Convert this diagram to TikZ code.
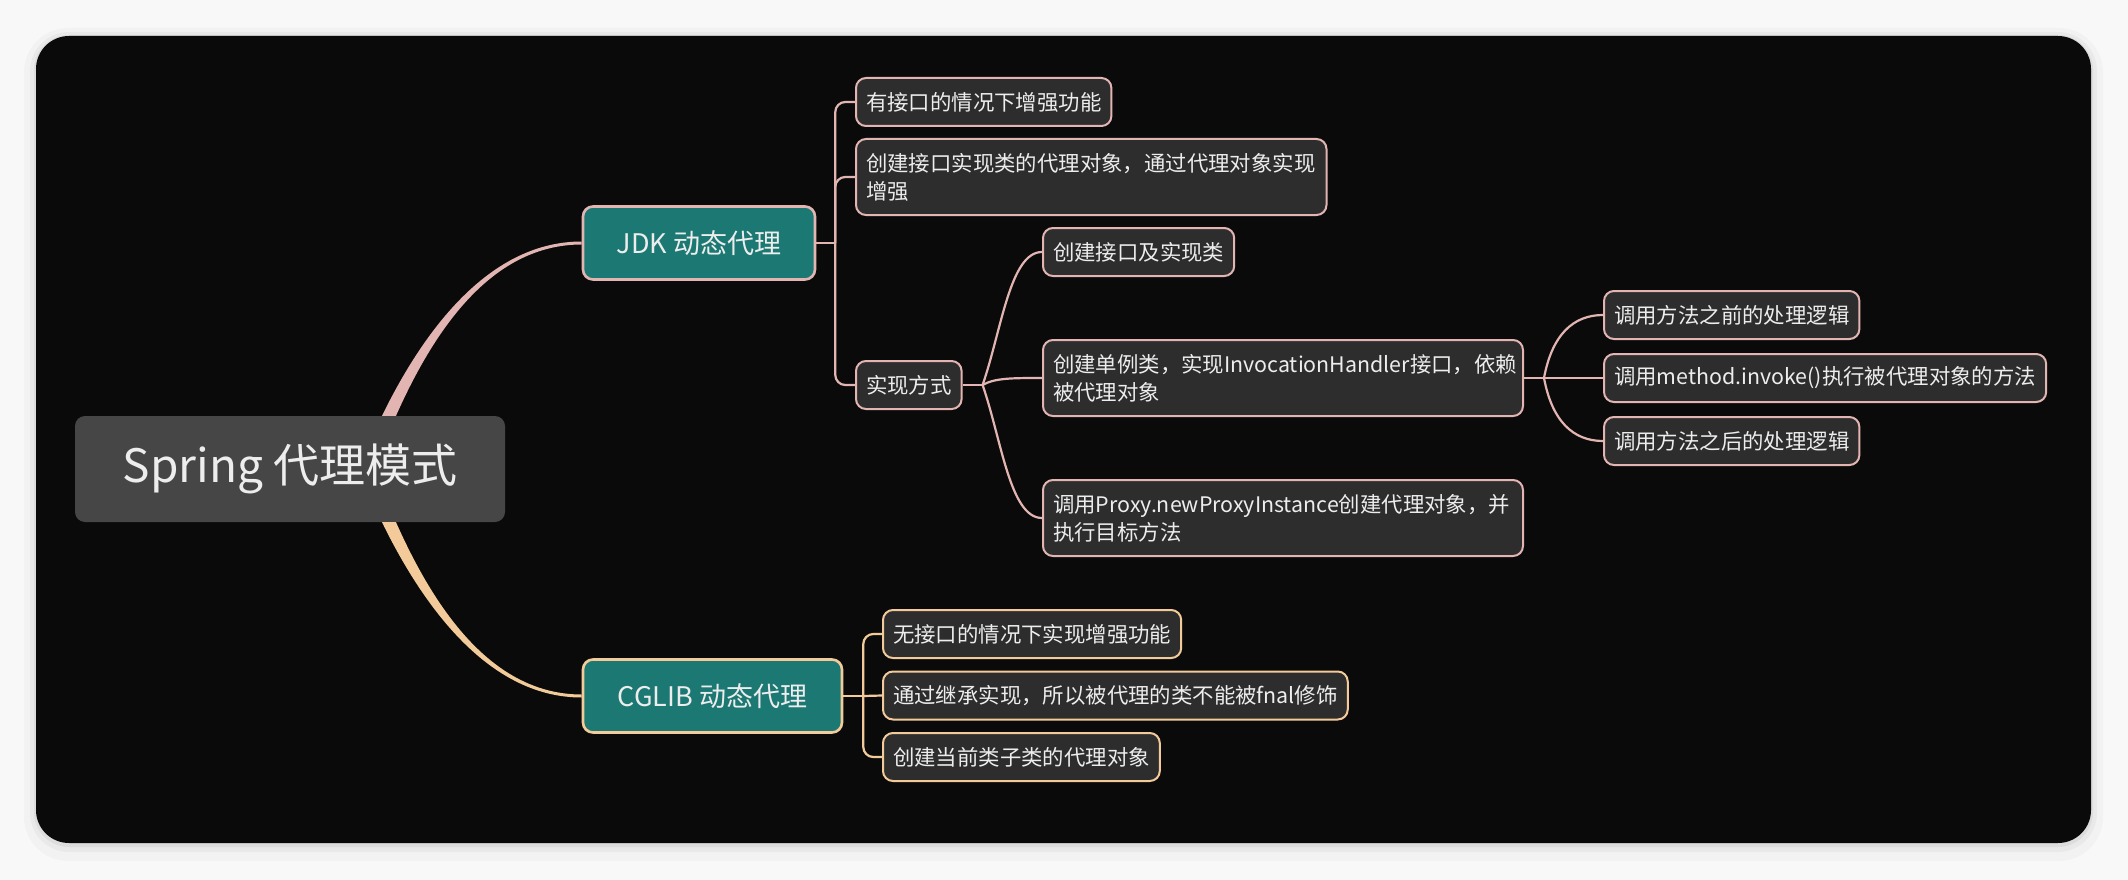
\documentclass[tikz,border=0pt]{standalone}
\usepackage{fontspec}
\setmainfont{Noto Sans CJK SC}
\usetikzlibrary{positioning,calc}
\definecolor{cardbg}{HTML}{0A0A0A}
\definecolor{pagebg}{HTML}{F8F8F8}
\definecolor{rootgray}{HTML}{464646}
\definecolor{topicteal}{HTML}{1B7872}
\definecolor{jdkpink}{HTML}{E2B5B2}
\definecolor{cgpeach}{HTML}{F3CB9B}
\definecolor{leafgray}{HTML}{2D2D2D}
\definecolor{txt}{HTML}{EDEDED}
\tikzset{rootbox/.style={
    fill=rootgray, rounded corners=10,
    minimum width=430, minimum height=106,
    text=txt, font=\fontsize{46}{55}\selectfont
    },
  topic/.style={
    draw=#1, line width=2.6, fill=topicteal, rounded corners=10,
    minimum height=73, text=txt, font=\fontsize{27}{32}\selectfont
    },
  leaf/.style={
    draw=#1, line width=2, fill=leafgray, rounded corners=10,
    inner xsep=10, minimum height=48, anchor=west,
    text=txt, font=\fontsize{21.4}{28}\selectfont
    },
  twoline/.style={text width=#1, align=left, minimum height=76},
  link/.style={draw=#1, line width=2.2}
}
\begin{document}
\begin{tikzpicture}[x=1pt,y=-1pt]
	\useasboundingbox (0,0) rectangle (2128,880);
	\fill[pagebg] (0,0) rectangle (2128,880);
	\fill[black,opacity=0.025,rounded corners=44] (24,28) rectangle (2103,861);
	\fill[black,opacity=0.035,rounded corners=39] (30,32) rectangle (2097,852);
	\fill[black,opacity=0.05,rounded corners=35] (34,35) rectangle (2093,847);
	\fill[cardbg,rounded corners=33] (36,36) rectangle (2091,843);
	\node[rootbox] (R) at (290,469) {Spring 代理模式};
	\node[topic=jdkpink,minimum width=232] (J) at (699,243) {JDK 动态代理};
	\node[topic=cgpeach,minimum width=259] (C) at (712.5,696) {CGLIB 动态代理};
	\node[leaf=jdkpink] (A1) at (855,102) {有接口的情况下增强功能};
	\node[leaf=jdkpink,twoline=450.5] (A2) at (855,177) {创建接口实现类的代理对象，通过代理对象实现\\增强};
	\node[leaf=jdkpink] (S) at (855,385) {实现方式};
	\node[leaf=jdkpink] (B1) at (1042,252) {创建接口及实现类};
	\node[leaf=jdkpink,twoline=460] (B2) at (1042,378) {创建单例类，实现InvocationHandler接口，依赖\\被代理对象};
	\node[leaf=jdkpink,twoline=460] (B3) at (1042,518) {调用Proxy.newProxyInstance创建代理对象，并\\执行目标方法};
	\node[leaf=jdkpink] (G1) at (1603,315) {调用方法之前的处理逻辑};
	\node[leaf=jdkpink] (G2) at (1603,378) {调用method.invoke()执行被代理对象的方法};
	\node[leaf=jdkpink] (G3) at (1603,441) {调用方法之后的处理逻辑};
	\node[leaf=cgpeach] (K1) at (882,634) {无接口的情况下实现增强功能};
	\node[leaf=cgpeach] (K2) at (882,695.5) {通过继承实现，所以被代理的类不能被fnal修饰};
	\node[leaf=cgpeach] (K3) at (882,757) {创建当前类子类的代理对象};
	\fill[jdkpink] ($(R.north)+(92,0)$) .. controls +(44,-90) and +(-90,0) .. ($(J.west)+(0,-1.5)$) -- ($(J.west)+(0,1.5)$) .. controls +(-88,0) and +(40,-90) .. ($(R.north)+(106,0)$) -- cycle;
	\fill[cgpeach] ($(R.south)+(92,0)$) .. controls +(44,90) and +(-90,0) .. ($(C.west)+(0,1.5)$) -- ($(C.west)+(0,-1.5)$) .. controls +(-88,0) and +(40,90) .. ($(R.south)+(106,0)$) -- cycle;
	\draw[link=jdkpink] (J.east) -- ++(19,0) coordinate (jx);
	\draw[link=jdkpink,rounded corners=10] (jx) |- (A1.west);
	\draw[link=jdkpink,rounded corners=10] (jx) |- (A2.west);
	\draw[link=jdkpink,rounded corners=10] (jx) |- (S.west);
	\draw[link=jdkpink] (S.east) -- ++(20,0) coordinate (sx);
	\draw[link=jdkpink] (sx) .. controls +(19,-55) and +(-32,0) .. (B1.west);
	\draw[link=jdkpink] (sx) .. controls +(12,-7) and +(-30,0) .. (B2.west);
	\draw[link=jdkpink] (sx) .. controls +(19,55) and +(-32,0) .. (B3.west);
	\draw[link=jdkpink] (B2.east) -- ++(20,0) coordinate (bx);
	\draw[link=jdkpink] (bx) .. controls +(8,-43) and +(-30,0) .. (G1.west);
	\draw[link=jdkpink] (bx) -- (G2.west);
	\draw[link=jdkpink] (bx) .. controls +(8,43) and +(-30,0) .. (G3.west);
	\draw[link=cgpeach] (C.east) -- ++(20,0) coordinate (cx);
	\draw[link=cgpeach,rounded corners=10] (cx) |- (K1.west);
	\draw[link=cgpeach] (cx) -- (K2.west);
	\draw[link=cgpeach,rounded corners=10] (cx) |- (K3.west);
\end{tikzpicture}
\end{document}
